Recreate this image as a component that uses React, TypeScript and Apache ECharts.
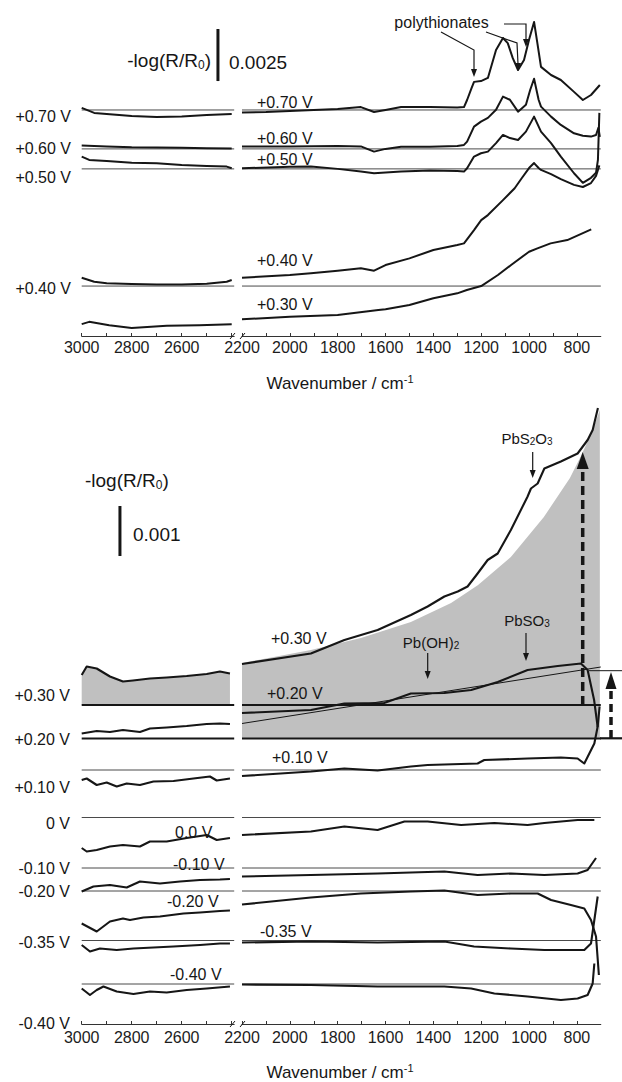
import React, { useEffect, useRef } from "react";
import * as echarts from "echarts";

const FONT = "'Liberation Sans', Arial, Helvetica, sans-serif";
const INK = "#161616";
const BASE_INK = "#4a4a4a";
const FILL = "#c0c0c0";

// ---- axes ----
const LEFT_MIN = 2390;
const LEFT_MAX = 3000;
const RIGHT_MIN = 700;
const RIGHT_MAX = 2200;
const LEFT_TICKS = [3000, 2900, 2800, 2700, 2600, 2500, 2400];
const LEFT_LABELS = [3000, 2800, 2600];
const RIGHT_TICKS = [2200, 2100, 2000, 1900, 1800, 1700, 1600, 1500, 1400, 1300, 1200, 1100, 1000, 900, 800];
const RIGHT_LABELS = [2200, 2000, 1800, 1600, 1400, 1200, 1000, 800];

// values in units of 1e-4 of -log(R/R0), relative to each spectrum's reference line
// ---- top panel ----
const TOP_OFFSETS = { v070: 108.6, v060: 89.9, v050: 80.3, v040: 24.0, v030: 24.0 };
const TOP_SCALE = 25; // 0.0025
const TOP_SCALE_POS = [2455, 122.5];

const top070L = [[3000, 1], [2950, -1.4], [2900, -1.9], [2800, -2.9], [2700, -3.4], [2600, -3.1], [2500, -2.4], [2400, -1.9]];
const top070R = [[2200, -1.2], [2100, -1], [2000, -0.5], [1900, 0], [1800, 0.5], [1703, 1.4], [1648, -1], [1600, 0], [1535, 1.4], [1414, 1.4], [1300, 1.2], [1272, 1.4], [1259, 4.8], [1240, 10.6], [1230, 13.5], [1201, 13.9], [1172, 15.4], [1138, 28.8], [1109, 34.6], [1089, 32.1], [1068, 24.9], [1046, 19.2], [1021, 24], [1000, 33.7], [979, 42.3], [965, 32], [950, 20.7], [908, 16.8], [867, 14.4], [812, 8.7], [775, 4.8], [741, 7.2], [704, 12]];
const top060L = [[3000, 1.6], [2900, 1.2], [2800, 0.8], [2700, 0.7], [2600, 0.5], [2500, 0.3], [2400, 0.2]];
const top060R = [[2200, 1.1], [2000, 1.1], [1800, 1.4], [1703, 1.2], [1648, -1.3], [1600, 0], [1535, 1], [1414, 1], [1300, 1.4], [1272, 1.9], [1259, 3.5], [1230, 10.7], [1201, 13.1], [1172, 14.9], [1138, 18.8], [1109, 25.1], [1080, 23.6], [1046, 17.9], [1013, 21.2], [995, 28.4], [979, 33.7], [960, 23.6], [950, 20.3], [908, 15.5], [867, 11.5], [812, 7.5], [775, 6.3], [741, 5.9], [720, 6.7], [710, 10.1], [704, 5.8]];
const top050L = [[3000, 5.9], [2970, 4.3], [2900, 3.8], [2800, 3.0], [2700, 2.7], [2600, 1.9], [2500, 1.4], [2420, 1.1], [2400, 0.3]];
const top050R = [[2200, 0.3], [2000, 1], [1912, 1.1], [1800, 0], [1703, -1.3], [1648, -2.1], [1535, -1.3], [1414, -0.8], [1300, -1], [1272, -1.3], [1259, 0.3], [1230, 5.9], [1201, 7.5], [1172, 8.3], [1138, 12.4], [1109, 16.3], [1080, 14.8], [1046, 13.9], [1013, 17.9], [979, 25.1], [950, 17.9], [908, 12.4], [867, 5.9], [812, -2.1], [775, -6.7], [741, -4.3], [720, -1.9], [712, 4.3], [706, 26.9]];
const top040L = [[3000, 4], [2950, 2.1], [2900, 1.4], [2800, 1], [2700, 0.8], [2600, 0.8], [2500, 1.1], [2420, 2.1], [2400, 2.9]];
const top040R = [[2200, 4], [2000, 5.3], [1912, 6.1], [1800, 7.4], [1703, 8.5], [1648, 7.4], [1600, 10.1], [1500, 13.3], [1400, 17.3], [1300, 19.7], [1272, 20.5], [1230, 26.9], [1200, 31.7], [1172, 34.1], [1109, 41.3], [1060, 47], [1030, 51.9], [1000, 56.7], [979, 59.1], [960, 56.7], [950, 55.8], [908, 53.8], [867, 51.4], [812, 48.6], [775, 47.6], [741, 49.5], [720, 52.9], [706, 58]];
const top030L = [[3000, -18.3], [2970, -17.2], [2890, -18.8], [2800, -20.1], [2660, -19.1], [2530, -18.8], [2400, -18.3]];
const top030R = [[2200, -16], [2000, -14.8], [1800, -13.9], [1630, -11.5], [1600, -11.1], [1500, -9.1], [1400, -5.9], [1300, -3.5], [1260, -1.9], [1200, 0], [1130, 5.3], [1075, 10.1], [1000, 16.5], [965, 18.1], [910, 20.5], [840, 22.1], [740, 27.2]];

// ---- bottom panel ----
const BOT_OFFSETS = { v030: 63.8, v020: 57.1, v010: 50.8, v000: 41.3, m010: 31.2, m020: 26.6, m035: 16.7, m040: 8.0 };
const BOT_SCALE = 10; // 0.001
const BOT_SCALE_POS = [2847, 93.6];

const b030L = [[3000, 6], [2980, 7.7], [2940, 7.3], [2887, 5.7], [2835, 4.7], [2795, 4.9], [2727, 5.3], [2660, 5.5], [2580, 5.8], [2500, 6.2], [2447, 6.7], [2407, 6.3]];
const b030R = [[2200, 8.2], [1912, 10.3], [1772, 13], [1633, 15], [1494, 18], [1424, 19.7], [1354, 21.7], [1298, 22.7], [1257, 23.7], [1215, 26.3], [1173, 29], [1131, 30.3], [1076, 35], [1006, 41.7], [992, 43.3], [964, 44.3], [936, 47.3], [867, 48.7], [797, 50.3], [755, 53], [734, 55], [712, 59.4]];
const b030Background = [[2200, 8.4], [1912, 11], [1703, 13.4], [1494, 16.6], [1326, 20.4], [1213, 24], [1076, 29.6], [938, 37.6], [829, 45.4], [783, 49.8], [737, 54.6], [704, 59]];
const b020L = [[3000, 1], [2940, 1.5], [2887, 1.3], [2835, 1.7], [2767, 1.3], [2727, 2], [2660, 2.2], [2580, 2.5], [2500, 2.9], [2447, 3], [2407, 2.9]];
const b020R = [[2200, 5.1], [1912, 5.7], [1772, 7], [1606, 7.1], [1494, 9], [1354, 9.1], [1242, 9.7], [1131, 11.3], [1006, 13.7], [880, 14.5], [783, 15], [755, 13.7], [728, 7.7], [713, 2.3]];
const b020Linear = [[2200, 3.0], [700, 14.3]];
const b010L = [[3000, -2], [2980, -1.7], [2940, -3], [2900, -2.5], [2860, -3.3], [2820, -2.7], [2767, -3], [2713, -2.3], [2633, -2.2], [2553, -1.7], [2487, -1.3], [2460, -2.1], [2407, -1.7]];
const b010R = [[2200, -1.2], [1912, -0.3], [1772, 0.3], [1633, -0.1], [1494, 0.7], [1424, 1], [1215, 1.3], [1187, 2], [1006, 2.3], [867, 2.5], [797, 2.3], [769, 1.3], [748, 3.3], [727, 5.3], [713, 8.7], [705, 12.7]];
const b000L = [[3000, -6.1], [2980, -6.8], [2940, -6.5], [2887, -5.8], [2835, -5.5], [2767, -5.8], [2727, -4.8], [2660, -4.8], [2580, -4.1], [2500, -3.5], [2460, -4.5], [2407, -4.1]];
const b000R = [[2200, -3.5], [1912, -2.8], [1772, -1.8], [1633, -2.5], [1521, -0.8], [1424, -0.8], [1284, -1.5], [1145, -1.1], [1006, -1.5], [936, -1.1], [797, -0.5], [727, -0.5]];
const bm010L = [[3000, -4.7], [2953, -3.7], [2887, -3.4], [2820, -3.9], [2767, -2.7], [2687, -3.1], [2607, -2.7], [2527, -2.4], [2447, -2.3], [2407, -2.2]];
const bm010R = [[2200, -1.7], [1912, -1.4], [1633, -1.1], [1354, -0.7], [1215, -1.4], [1076, -1.1], [936, -1.4], [797, -1.1], [755, -0.4], [720, 2]];
const bm020L = [[3000, -6.5], [2940, -8.1], [2887, -6.1], [2835, -5.5], [2807, -5.8], [2753, -5.3], [2687, -5.1], [2593, -4.5], [2527, -4.3], [2447, -4], [2407, -3.9]];
const bm020R = [[2200, -2.7], [1912, -1.3], [1703, -0.5], [1494, -0.1], [1354, 0.1], [1215, -0.8], [1076, -0.5], [964, -0.5], [908, -1.8], [825, -2.8], [769, -3.5], [741, -5.8], [720, -9.1], [708, -16.8]];
const bm035L = [[3000, -0.9], [2967, -2.2], [2927, -1.6], [2860, -1.9], [2793, -1.6], [2713, -1.4], [2633, -1.2], [2527, -0.9], [2447, -0.6], [2407, -0.6]];
const bm035R = [[2200, -0.4], [1912, -0.2], [1633, -0.4], [1354, -0.2], [1230, -1.2], [1076, -1.6], [936, -1.9], [769, -1.9], [741, -0.6], [713, 8.8]];
const bm040L = [[3000, -0.9], [2967, -2.2], [2940, -1.2], [2913, -0.5], [2860, -1.5], [2793, -2], [2727, -1.5], [2660, -1.7], [2580, -1.2], [2500, -0.9], [2407, -0.5]];
const bm040R = [[2200, -0.1], [1912, -0.2], [1633, -0.5], [1354, -0.5], [1242, -0.9], [1145, -1.9], [1006, -2.5], [867, -3.2], [797, -2.9], [755, -2.2], [734, 0.1], [727, 4.1]];

const TOP_LEFT_LABELS = ["+0.70 V", "+0.60 V", "+0.50 V", "+0.40 V"];
const TOP_INLINE_LABELS = ["+0.70 V", "+0.60 V", "+0.50 V", "+0.40 V", "+0.30 V"];
const BOT_LEFT_LABELS = ["+0.30 V", "+0.20 V", "+0.10 V", "0 V", "-0.10 V", "-0.20 V", "-0.35 V", "-0.40 V"];
const BOT_INLINE_LABELS = ["+0.30 V", "+0.20 V", "+0.10 V", "0.0 V", "-0.10 V", "-0.20 V", "-0.35 V", "-0.40 V"];

type Pt = number[];

function lineS(data: Pt[], off: number, gi: number, width = 2, color = INK, z = 3, extra: any = {}) {
  return {
    type: "line",
    xAxisIndex: gi,
    yAxisIndex: gi,
    data: data.map(([w, v]) => [w, v + off]),
    symbol: "none",
    silent: true,
    clip: false,
    lineStyle: { color, width, join: "round" },
    z,
    ...extra,
  };
}

function baseS(off: number, gi: number, width = 1, color = BASE_INK) {
  const isLeft = gi % 2 === 0;
  const d = isLeft ? [[LEFT_MAX, 0], [LEFT_MIN, 0]] : [[RIGHT_MAX, 0], [RIGHT_MIN, 0]];
  return lineS(d, off, gi, width, color, 2);
}

// filled region between a curve (values + topOff) and a horizontal level (baseOff)
function fillS(data: Pt[], baseOff: number, topOff: number, gi: number) {
  const upper = data.map(([w, v]) => [w, v + topOff]);
  const first = data[0][0];
  const last = data[data.length - 1][0];
  const poly = [...upper, [last, baseOff], [first, baseOff]];
  return {
    type: "custom",
    xAxisIndex: gi,
    yAxisIndex: gi,
    coordinateSystem: "cartesian2d",
    silent: true,
    z: 1,
    clip: false,
    encode: { x: 0, y: 1 },
    data: poly,
    renderItem: (params: any, api: any) => {
      if (params.dataIndex !== 0) return null;
      const pts = poly.map((p) => api.coord(p));
      return { type: "polygon", shape: { points: pts }, style: { fill: FILL, stroke: null } };
    },
  };
}

function xAxisCfg(gi: number) {
  const isLeft = gi % 2 === 0;
  return {
    type: "value",
    gridIndex: gi,
    inverse: true,
    min: isLeft ? LEFT_MIN : RIGHT_MIN,
    max: isLeft ? LEFT_MAX : RIGHT_MAX,
    axisLine: { show: true, onZero: false, lineStyle: { color: "#333", width: 1 } },
    axisTick: { show: true, inside: true, length: 3, customValues: isLeft ? LEFT_TICKS : RIGHT_TICKS, lineStyle: { color: "#333" } },
    axisLabel: {
      show: true,
      customValues: isLeft ? LEFT_LABELS : RIGHT_LABELS,
      formatter: (v: number) => String(v),
      fontSize: 16,
      fontFamily: FONT,
      color: "#1c1c1c",
      margin: gi < 2 ? 3 : 5,
    },
    splitLine: { show: false },
    minorTick: { show: false },
  };
}

function yAxisCfg(gi: number) {
  return { type: "value", gridIndex: gi, min: 0, max: gi < 2 ? 160 : 125, show: false };
}

function text(t: string, x: number, y: number, align: string = "left", size = 16, rich?: any) {
  return {
    type: "text",
    x,
    y,
    silent: true,
    z: 10,
    style: {
      text: t,
      fill: INK,
      fontSize: size,
      fontFamily: FONT,
      align,
      textAlign: align,
      verticalAlign: "middle",
      textVerticalAlign: "middle",
      rich,
    },
  };
}

function seg(x1: number, y1: number, x2: number, y2: number, w = 1.2, dash?: number[]) {
  return { type: "line", silent: true, z: 10, shape: { x1, y1, x2, y2 }, style: { stroke: INK, lineWidth: w, lineDash: dash } };
}
function poly(points: number[][], w = 1.2) {
  return { type: "polyline", silent: true, z: 10, shape: { points }, style: { stroke: INK, lineWidth: w, fill: null } };
}
function head(x: number, y: number, up = false, hw = 3, hl = 8) {
  const s = up ? 1 : -1;
  return { type: "polygon", silent: true, z: 10, shape: { points: [[x - hw, y + s * hl], [x + hw, y + s * hl], [x, y]] }, style: { fill: INK } };
}

function buildOption() {
  const grids = [
    { left: 81.7, top: 3, width: 152.5, height: 333 },
    { left: 242, top: 3, width: 358.8, height: 333 },
    { left: 81.7, top: 399, width: 152.5, height: 625 },
    { left: 242, top: 399, width: 358.8, height: 625 },
  ].map((g) => ({ ...g, containLabel: false, outerBoundsMode: "none", show: false }));

  const T = TOP_OFFSETS;
  const B = BOT_OFFSETS;
  const series: any[] = [];

  // top baselines
  [T.v070, T.v060, T.v050, T.v040].forEach((o) => {
    series.push(baseS(o, 0), baseS(o, 1));
  });
  // top spectra
  const topPairs: [Pt[], Pt[], number][] = [
    [top070L, top070R, T.v070],
    [top060L, top060R, T.v060],
    [top050L, top050R, T.v050],
    [top040L, top040R, T.v040],
    [top030L, top030R, T.v030],
  ];
  topPairs.forEach(([l, r, o]) => {
    series.push(lineS(l, o, 0), lineS(r, o, 1));
  });
  // top scale bar
  series.push(lineS([[TOP_SCALE_POS[0], 0], [TOP_SCALE_POS[0], TOP_SCALE]], TOP_SCALE_POS[1], 0, 3, INK, 5));

  // bottom fills
  series.push(fillS(b030L, B.v030, B.v030, 2));
  series.push(fillS(b030Background, B.v020, B.v030, 3));

  // bottom baselines
  series.push(baseS(B.v030, 2, 2.2, INK), baseS(B.v030, 3, 2.2, INK));
  series.push(baseS(B.v020, 2, 2.2, INK), baseS(B.v020, 3, 2.2, INK));
  [B.v010, B.v000, B.m010, B.m020, B.m035, B.m040].forEach((o) => {
    series.push(baseS(o, 2), baseS(o, 3));
  });
  // bottom spectra
  const botPairs: [Pt[], Pt[], number][] = [
    [b030L, b030R, B.v030],
    [b020L, b020R, B.v020],
    [b010L, b010R, B.v010],
    [b000L, b000R, B.v000],
    [bm010L, bm010R, B.m010],
    [bm020L, bm020R, B.m020],
    [bm035L, bm035R, B.m035],
    [bm040L, bm040R, B.m040],
  ];
  botPairs.forEach(([l, r, o]) => {
    series.push(lineS(l, o, 2, 2.1), lineS(r, o, 3, 2.1));
  });
  series.push(lineS(b020Linear, B.v020, 3, 1, INK, 3));
  // bottom scale bar
  series.push(lineS([[BOT_SCALE_POS[0], 0], [BOT_SCALE_POS[0], BOT_SCALE]], BOT_SCALE_POS[1], 2, 3, INK, 5));

  const subRich = {
    sub: { fontSize: 12, fontFamily: FONT, fill: INK, verticalAlign: "bottom", padding: [10, 0, 0, 0] },
    sup: { fontSize: 11, fontFamily: FONT, fill: INK, verticalAlign: "top", padding: [0, 0, 9, 0] },
  };
  const subRichSmall = {
    sub: { fontSize: 10, fontFamily: FONT, fill: INK, verticalAlign: "bottom", padding: [7, 0, 0, 0] },
  };

  const graphic: any[] = [];
  // top panel texts
  const topLeftY = [116, 148, 177, 288];
  TOP_LEFT_LABELS.forEach((t, i) => graphic.push(text(t, 71, topLeftY[i], "right", 16)));
  const topInlineY = [102, 138, 159, 260, 304];
  TOP_INLINE_LABELS.forEach((t, i) => graphic.push(text(t, 257, topInlineY[i], "left", 16)));
  graphic.push(text("-log(R/R{sub|0})", 211, 60, "right", 19, subRich));
  graphic.push(text("0.0025", 229, 62, "left", 19));
  graphic.push(text("polythionates", 441.5, 22, "center", 16));
  graphic.push(poly([[441, 32], [474, 50], [474, 70]]), head(474, 77));
  graphic.push(poly([[486, 32], [517, 43], [518, 64]]), head(518, 71));
  graphic.push(poly([[504, 24], [526, 24], [526, 40]]), head(526, 47));
  graphic.push(text("Wavenumber / cm{sup|-1}", 340, 383, "center", 17, subRich));
  // axis breaks
  [336, 1024].forEach((y) => {
    graphic.push(seg(230, y + 3, 235, y - 3, 1), seg(240, y + 3, 245, y - 3, 1));
  });

  // bottom panel texts
  const botLeftY = [695, 739, 787, 823, 868, 891, 942, 1023];
  BOT_LEFT_LABELS.forEach((t, i) => graphic.push(text(t, 70, botLeftY[i], "right", 16)));
  const botInline: number[][] = [[271, 638], [267, 693], [272, 757], [175, 832], [173, 864], [167, 901], [260, 931], [170, 974]];
  BOT_INLINE_LABELS.forEach((t, i) => graphic.push(text(t, botInline[i][0], botInline[i][1], "left", 16)));
  graphic.push(text("-log(R/R{sub|0})", 85, 480, "left", 19, subRich));
  graphic.push(text("0.001", 133, 534, "left", 19));
  graphic.push(text("Wavenumber / cm{sup|-1}", 340, 1072, "center", 17, subRich));
  graphic.push(text("PbS{sub|2}O{sub|3}", 527, 438, "center", 15, subRichSmall));
  graphic.push(seg(532.7, 452, 532.7, 471), head(532.7, 478));
  graphic.push(text("PbSO{sub|3}", 527, 620, "center", 15, subRichSmall));
  graphic.push(seg(526, 633, 526, 654), head(526, 661));
  graphic.push(text("Pb(OH){sub|2}", 431, 642, "center", 15, subRichSmall));
  graphic.push(seg(427.7, 653, 427.7, 672), head(427.7, 679));
  // dashed arrows
  graphic.push(seg(582.7, 705, 582.7, 468, 3.5, [9, 5]), head(582.7, 452, true, 6, 17));
  graphic.push(seg(611, 738, 611, 688, 3.5, [8, 5]), head(611, 672, true, 5.5, 17));
  graphic.push(seg(589, 670.7, 622, 670.7, 1));
  graphic.push(seg(600, 738.3, 622, 738.3, 2.2));

  return {
    animation: false,
    backgroundColor: "#ffffff",
    grid: grids,
    xAxis: [0, 1, 2, 3].map(xAxisCfg),
    yAxis: [0, 1, 2, 3].map(yAxisCfg),
    series,
    graphic,
  };
}

export default function App() {
  const ref = useRef<HTMLDivElement>(null);
  useEffect(() => {
    document.body.style.margin = "0";
    const chart = echarts.init(ref.current!, undefined, { renderer: "svg" });
    chart.setOption(buildOption() as any);
    return () => chart.dispose();
  }, []);
  return <div ref={ref} style={{ width: 622, height: 1082, background: "#fff" }} />;
}
